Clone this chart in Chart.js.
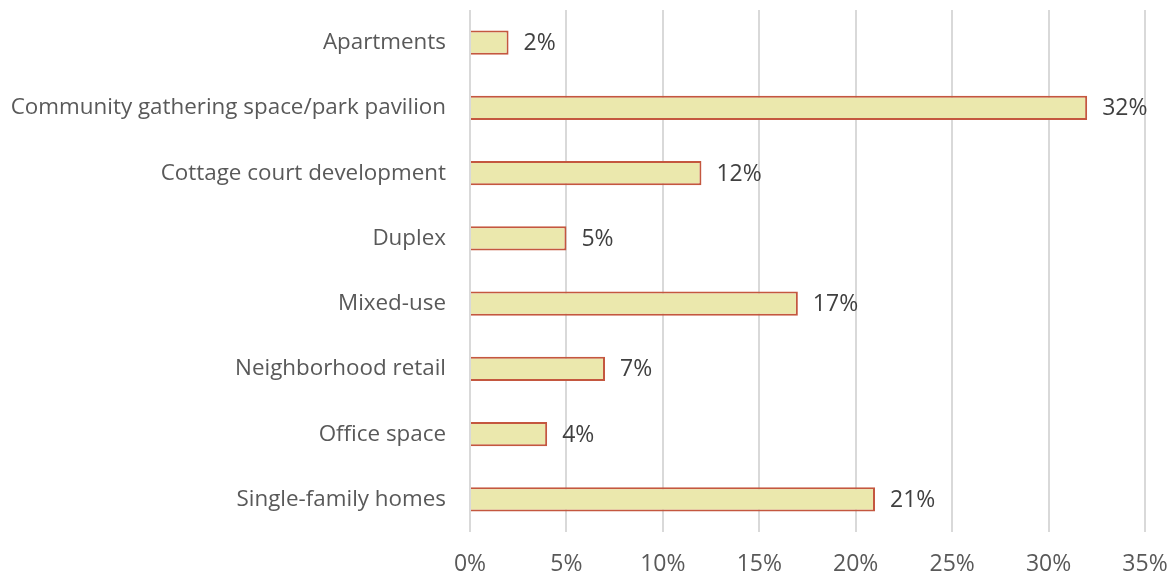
<!DOCTYPE html>
<html>
<head>
<meta charset="utf-8">
<script src="https://cdn.jsdelivr.net/npm/chart.js@4/dist/chart.umd.min.js"></script>
<style>
  html, body { margin: 0; padding: 0; background: #ffffff; }
  #wrap { width: 1173px; height: 580px; position: relative; }
</style>
</head>
<body>
<div id="wrap"><canvas id="chart"></canvas></div>
<script>
const categories = [
  'Apartments',
  'Community gathering space/park pavilion',
  'Cottage court development',
  'Duplex',
  'Mixed-use',
  'Neighborhood retail',
  'Office space',
  'Single-family homes'
];
const shares = [2, 32, 12, 5, 17, 7, 4, 21];
const xTickStep = 5;
const xMax = 35;

const FONT = '"Open Sans", "Noto Sans", sans-serif';

// Percentage text to the right of each bar
const valueLabels = {
  id: 'valueLabels',
  afterDatasetsDraw(chart) {
    const { ctx } = chart;
    const meta = chart.getDatasetMeta(0);
    ctx.save();
    ctx.font = '23px ' + FONT;
    ctx.fillStyle = '#404040';
    ctx.textAlign = 'left';
    ctx.textBaseline = 'middle';
    meta.data.forEach((bar, i) => {
      ctx.fillText(shares[i] + '%', bar.x + 15, bar.y + 1);
    });
    ctx.restore();
  }
};

new Chart(document.getElementById('chart'), {
  type: 'bar',
  data: {
    labels: categories,
    datasets: [{
      data: shares,
      backgroundColor: '#ebe8ad',
      borderColor: '#c4573f',
      borderWidth: 2,
      borderSkipped: 'start',
      categoryPercentage: 1,
      barPercentage: 0.37
    }]
  },
  options: {
    indexAxis: 'y',
    responsive: true,
    maintainAspectRatio: false,
    animation: false,
    layout: { padding: { top: 10, right: 28, left: 0, bottom: 0 } },
    plugins: { legend: { display: false }, tooltip: { enabled: false } },
    scales: {
      x: {
        min: 0,
        max: xMax,
        ticks: {
          stepSize: xTickStep,
          padding: 19,
          color: '#595959',
          font: { family: FONT, size: 23 },
          callback: v => v + '%'
        },
        grid: { color: '#d9d9d9', lineWidth: 2, drawTicks: false },
        border: { display: false },
        afterFit(scale) {
          scale.height = 48;
          scale.paddingLeft = 0;
          scale.paddingRight = 0;
        }
      },
      y: {
        ticks: {
          padding: 24,
          color: '#595959',
          font: { family: FONT, size: 22.4 }
        },
        grid: { display: false, drawTicks: false },
        border: { display: false },
        afterFit(scale) {
          scale.width = 470;
          scale.paddingTop = 0;
          scale.paddingBottom = 0;
        }
      }
    }
  },
  plugins: [valueLabels]
});
</script>
</body>
</html>
